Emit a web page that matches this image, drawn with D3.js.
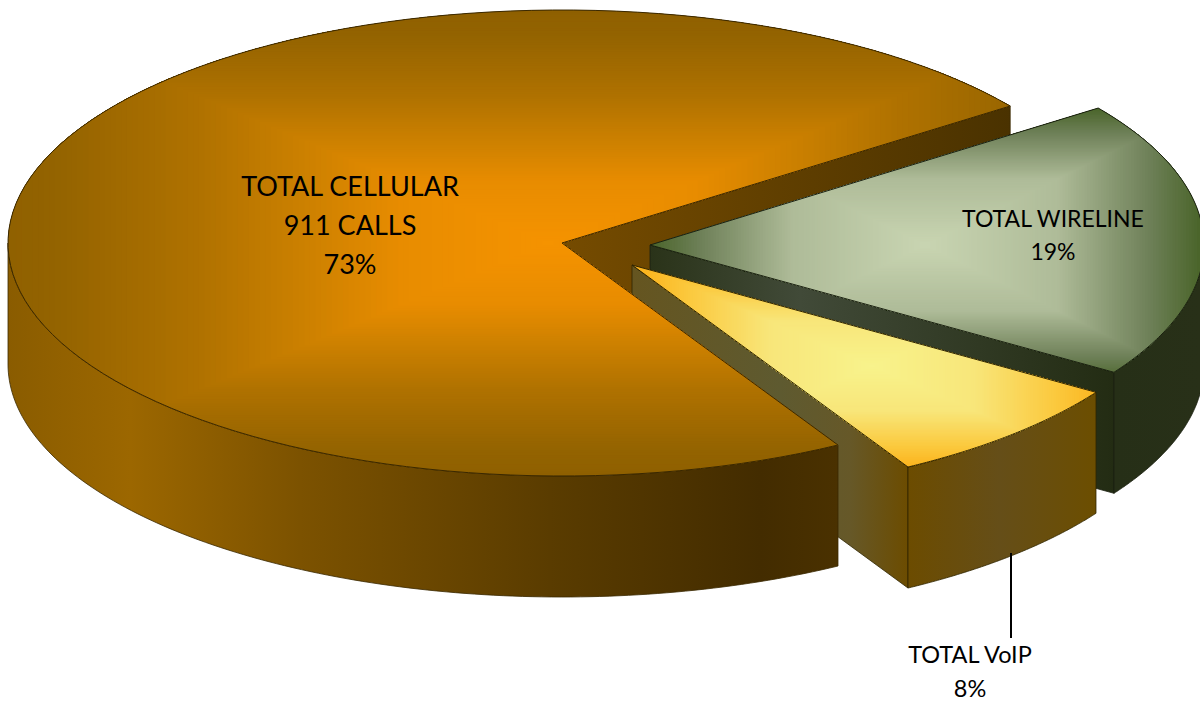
<!DOCTYPE html>
<html>
<head>
<meta charset="utf-8">
<script src="https://cdn.jsdelivr.net/npm/d3@7"></script>
<style>
  html, body { margin: 0; background: white; overflow: hidden; }
  text { font-family: Lato, "Open Sans", sans-serif; fill: #000; }
</style>
</head>
<body>
<div id="chart"></div>
<script>
"use strict"

const categories = ["TOTAL WIRELINE", "TOTAL VoIP", "TOTAL CELLULAR"]
const shares = [19.2, 7.5, 73.3]
const labelLines = [["TOTAL WIRELINE", "19%"], ["TOTAL VoIP", "8%"], ["TOTAL CELLULAR", "911 CALLS", "73%"]]

const width = 1200, height = 704
const rx = 554, ry = 233, depth = 121
const rad = Math.PI / 180

// exploded position, label place and colours of each slice
const looks = {
  "TOTAL CELLULAR": {
    tip: [562, 243], glow: [548, 243], half: [554, 233], stroke: "#3a2800",
    top: [[0, "#f59300"], [.27, "#e88c00"], [.45, "#cb8000"], [.63, "#b07200"], [.9, "#936300"], [1, "#8f6000"]],
    wall: [[8, "#8a5c00"], [130, "#9c6700"], [300, "#7c5200"], [550, "#5a3c00"], [760, "#432c00"], [838, "#4a3100"]],
    cut: [[562, "#754b00"], [1012, "#4a3200"]],
    label: [350, 196], size: 27, lead: 39
  },
  "TOTAL WIRELINE": {
    tip: [650, 245], glow: [925, 245], half: [275, 137], stroke: "#1a2010",
    top: [[0, "#c9d5b2"], [.49, "#aebb98"], [.82, "#6e8058"], [1, "#4b652b"]],
    wall: [[1115, "#262f17"], [1200, "#283018"]],
    cut: [[650, "#2a3319"], [800, "#414a38"], [1115, "#232c13"]],
    label: [1053, 227], size: 23, lead: 33
  },
  "TOTAL VoIP": {
    tip: [632, 265], glow: [872, 366], half: [230, 101], stroke: "#2f2400",
    top: [[0, "#f8f38c"], [.45, "#f8e67a"], [.8, "#fbc93e"], [1, "#fbb41e"]],
    wall: [[908, "#6c4c00"], [1000, "#654e18"], [1097, "#6c4e00"]],
    cut: [[632, "#655520"], [780, "#5e5a30"], [850, "#665828"], [908, "#6c4c00"]],
    label: [970, 663], size: 23.5, lead: 34
  }
}

// the pie is drawn in an ellipse, angles run clockwise from 12 o'clock
const pie = d3.pie().sort(null).startAngle(54 * rad).endAngle(414 * rad)
const slices = pie(shares).map((d, i) => ({...d, name: categories[i], lines: labelLines[i], look: looks[categories[i]]}))

const line = d3.line()
const rim = (d, a0, a1, dy = 0) => d3.range(0, 1.0001, 1 / 120).map(t => {
  const a = a0 + (a1 - a0) * t
  return [d.look.tip[0] + rx * Math.sin(a), d.look.tip[1] - ry * Math.cos(a) + dy]
})

const svg = d3.select("#chart").append("svg")
  .attr("width", width)
  .attr("height", height)
  .attr("viewBox", `0,0,${width},${height}`)
  .style("display", "block")

const defs = svg.append("defs")

function xGradient(id, stops) {
  const x = d3.scaleLinear().domain(d3.extent(stops, s => s[0])).range([0, 1])
  const g = defs.append("linearGradient")
    .attr("id", id)
    .attr("gradientUnits", "userSpaceOnUse")
    .attr("x1", stops[0][0]).attr("x2", stops[stops.length - 1][0])
    .attr("y1", 0).attr("y2", 0)
  stops.forEach(s => g.append("stop").attr("offset", x(s[0])).attr("stop-color", s[1]))
  return `url(#${id})`
}

function drawCut(g, d, id, angle) {
  const [tx, ty] = d.look.tip
  const e = rim(d, angle, angle)[0]
  g.append("path")
    .attr("d", line([[tx, ty], e, [e[0], e[1] + depth], [tx, ty + depth]]) + "Z")
    .attr("fill", xGradient(id, d.look.cut))
    .attr("stroke", d.look.stroke)
    .attr("stroke-width", .8)
}

function drawWall(g, d, id, a0, a1) {
  g.append("path")
    .attr("d", line(rim(d, a0, a1).concat(rim(d, a1, a0, depth))) + "Z")
    .attr("fill", xGradient(id, d.look.wall))
    .attr("stroke", d.look.stroke)
    .attr("stroke-width", .8)
}

// rectangular "path" gradient, as office charts have it
function drawTop(g, d, id) {
  const outline = line([d.look.tip].concat(rim(d, d.startAngle, d.endAngle))) + "Z"
  defs.append("clipPath").attr("id", id).append("path").attr("d", outline)
  const color = d3.scaleLinear()
    .domain(d.look.top.map(s => s[0]))
    .range(d.look.top.map(s => s[1]))
    .clamp(true)
  const [gx, gy] = d.look.glow, [hw, hh] = d.look.half
  const ramp = g.append("g").attr("clip-path", `url(#${id})`)
  ramp.append("rect").attr("width", width).attr("height", height).attr("fill", color(1))
  ramp.selectAll("rect.band")
    .data(d3.range(1, 0, -1 / 100))
    .join("rect")
      .attr("class", "band")
      .attr("x", t => gx - hw * t)
      .attr("y", t => gy - hh * t)
      .attr("width", t => 2 * hw * t)
      .attr("height", t => 2 * hh * t)
      .attr("fill", t => color(t))
  g.append("path")
    .attr("d", outline)
    .attr("fill", "none")
    .attr("stroke", d.look.stroke)
    .attr("stroke-width", 1)
}

const [wire, voip, cell] = slices
const bottomRight = 90 * rad, bottomLeft = 270 * rad

// painter's order: the back of the big slice first, its top last
drawCut(svg, cell, "cut-cell", cell.endAngle)

drawCut(svg, wire, "cut-wire", wire.endAngle)
drawWall(svg, wire, "wall-wire", bottomRight, wire.endAngle)
drawTop(svg, wire, "top-wire")

drawCut(svg, voip, "cut-voip", voip.endAngle)
drawWall(svg, voip, "wall-voip", voip.startAngle, voip.endAngle)
drawTop(svg, voip, "top-voip")

drawWall(svg, cell, "wall-cell", cell.startAngle, bottomLeft)
drawTop(svg, cell, "top-cell")

// leader of the VoIP label
svg.append("line")
  .attr("x1", 1011).attr("x2", 1011)
  .attr("y1", 553).attr("y2", 638)
  .attr("stroke", "#000")
  .attr("stroke-width", 2)

slices.forEach(d => {
  const [lx, ly] = d.look.label
  svg.append("g")
    .selectAll("text")
    .data(d.lines)
    .join("text")
      .attr("x", lx)
      .attr("y", (t, i) => ly + i * d.look.lead)
      .attr("text-anchor", "middle")
      .style("font-size", d.look.size + "px")
      .text(t => t)
})
</script>
</body>
</html>
